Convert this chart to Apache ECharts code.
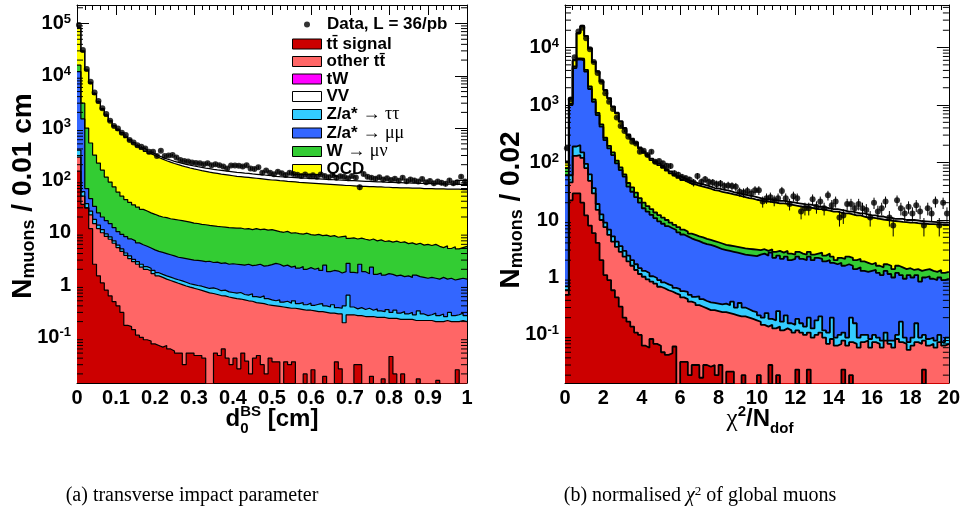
<!DOCTYPE html>
<html><head><meta charset="utf-8">
<script src="https://cdn.jsdelivr.net/npm/echarts@6/dist/echarts.min.js"></script>
<style>html,body{margin:0;padding:0;background:#fff}#c{width:963px;height:514px}</style>
</head><body><div id="c"></div>
<script>
// ---------------- panel (a): d0 (0..1 cm, 100 bins), cumulative stack tops ----------------
const d0Range = [0, 1];
const d0Data = [94000,31000,13500,7700,4800,3300,2400,1860,1380,1100,
 980,815,740,590,530,470,440,410,355,355,
 292,370,292,300,305,275,245,235,230,220,
 215,212,203,212,196,205,196,184,170,192,
 192,190,184,196,170,165,178,140,155,140,
 131,147,137,127,140,133,128,122,130,120,
 125,118,130,121,115,126,112,120,117,110,
 122,114,74,133,118,112,108,115,104,110,
 102,108,99,112,96,104,100,95,106,92,
 98,88,95,90,86,100,88,92,118,95];
const d0Total = [85000,30000,13000,7500,4600,3200,2350,1800,1400,1120,
 950,820,700,610,530,468,420,386,350,323,
 297,276,259,246,232,221,212,203,196,189,
 183,178,172,168,163,159,156,152,149,146,
 143,141,138,136,133,131,129,127,125,123,
 120,118,117,116,114,113,112,111,110,108,
 108,107,106,105,104,103,102,101,100,99,
 99,98,97,96,96,95,94,94,93,92,
 92,91,91,90,90,89,89,88,88,87,
 87,86,86,86,85,85,85,84,84,84];
const d0QCD = [82000,29000,12500,7200,4400,3050,2250,1720,1330,1060,
 900,770,660,572,497,440,396,360,326,299,
 275,255,238,224,211,200,190,181,173,166,
 160,154,149,144,140,136,132,129,126,123,
 120,118,116,114,112,110,108,106,104,102,
 101,99,98,96,95,94,92,91,90,89,
 88,87,86,85,84,83,82,81,80,80,
 79,78,77,77,76,76,75,75,74,74,
 73,73,72,72,72,71,71,71,70,70,
 70,69,69,69,68,68,68,68,67,67];
const d0W = [16000,3000,1000,520,305,215,158,116,93,75,
 60,50,43,38,34,31,28,26,24,22.5,
 21,20,19.5,18.5,18,17.5,17,16.5,16,15.3,
 15,14.5,14.2,13.8,13.5,13.2,13,12.8,12.5,12.4,
 12.2,12.3,11.8,12,11.5,12,11.5,11.7,11.2,11.5,
 11,10.5,10.2,10.6,9.8,10,9.6,9.4,9.8,9.2,
 9,9.3,8.8,9,8.5,8.8,8.2,8.4,8.6,7.8,
 8,7.6,7.9,7.5,7.2,7.6,7,7.3,6.8,7,
 6.6,6.9,6.5,6.7,6.2,6.4,6,6.3,5.8,6,
 5.7,6,5.5,5.2,5.6,5,5.4,4.9,5.2,5.5];
const d0Zmumu = [12000,1500,70,45,32,24,20,17,15,12.5,
 10.5,9.3,8.4,7.6,7.0,6.4,5.9,5.5,5.1,4.7,
 4.4,4.2,4.0,3.8,3.6,3.4,3.3,3.2,3.1,3.0,
 2.95,2.9,2.8,2.85,2.7,2.75,2.6,2.65,2.5,2.55,
 2.5,2.45,2.4,2.5,2.35,2.4,2.5,2.3,2.35,2.45,
 2.6,2.5,2.3,2.4,2.2,2.3,2.1,2.25,2.0,2.15,
 2.0,2.1,1.9,2.4,1.8,1.9,1.85,1.7,1.8,2.6,
 1.75,1.7,2.5,1.8,1.65,2.2,1.6,1.7,1.55,1.65,
 1.6,1.5,1.55,1.45,1.5,1.4,1.55,1.45,1.4,1.35,
 1.4,1.35,1.3,1.4,1.3,1.35,1.25,1.3,1.35,1.3];
const d0Ztautau = [380,61,36,26,18,14,11.5,9.5,8.3,7,
 5.8,4.9,4.1,3.6,3.1,2.8,2.5,2.25,2.1,1.9,
 1.72,1.6,1.5,1.42,1.33,1.26,1.2,1.13,1.06,1.02,
 0.98,0.95,0.9,0.86,0.88,0.84,0.78,0.8,0.74,0.72,
 0.7,0.72,0.66,0.64,0.68,0.6,0.58,0.62,0.55,0.52,
 0.5,0.52,0.47,0.49,0.45,0.5,0.44,0.46,0.42,0.45,
 0.41,0.43,0.44,0.4,0.38,0.42,0.37,0.36,0.4,0.64,
 0.38,0.35,0.37,0.34,0.36,0.33,0.35,0.32,0.31,0.34,
 0.3,0.33,0.29,0.31,0.28,0.3,0.27,0.32,0.28,0.26,
 0.27,0.29,0.26,0.28,0.25,0.3,0.26,0.27,0.29,0.26];
const d0OtherTT = [280,50,30,22,15,12,10,8.5,7.5,6.3,
 5.2,4.4,3.7,3.2,2.8,2.5,2.2,2.0,1.85,1.65,
 1.5,1.4,1.3,1.22,1.15,1.08,1.02,0.96,0.91,0.87,
 0.83,0.79,0.75,0.71,0.69,0.66,0.63,0.62,0.59,0.57,
 0.55,0.54,0.52,0.5,0.49,0.46,0.45,0.44,0.42,0.41,
 0.4,0.39,0.38,0.37,0.36,0.36,0.35,0.34,0.33,0.33,
 0.32,0.31,0.31,0.3,0.29,0.29,0.28,0.28,0.19,0.27,
 0.27,0.26,0.26,0.25,0.25,0.25,0.24,0.24,0.24,0.23,
 0.23,0.23,0.22,0.22,0.22,0.22,0.21,0.21,0.21,0.21,
 0.21,0.2,0.2,0.2,0.21,0.2,0.2,0.2,0.21,0.2];
const d0Signal = [150,35,30,12,2.5,1.5,1.1,0.8,0.62,0.48,
 0.4,0.3,0.17,0.16,0.14,0.11,0.1,0.09,0.085,0.075,
 0.07,0.065,0.07,0.06,0.055,0.05,0.05,0.03,0.05,0.05,
 0.045,0.045,0.04,0,0,0.05,0.045,0.06,0.04,0.03,
 0.04,0.025,0.05,0.035,0.02,0.04,0.045,0.03,0.02,0.04,
 0.034,0.034,0,0.034,0.03,0.034,0,0,0.02,0,
 0.024,0,0,0.018,0,0,0.034,0.025,0,0,
 0,0.03,0.03,0,0,0.018,0,0,0.016,0,
 0.043,0.02,0,0.02,0,0,0,0.016,0,0,
 0,0,0.015,0,0,0,0,0.024,0,0];

// ---------------- panel (b): chi2/Ndof (0..20, 100 bins), cumulative stack tops ----------------
const chiRange = [0, 20];
const chiData = [178,1250,6800,19000,22000,14500,9300,5600,3600,2550,
 1600,1140,850,610,430,355,280,230,215,154,
 160,135,154,103,106,97,88,87,65,61,
 56,53,50,45,58,46,51,46,45,42,
 43,39,40,39,38,31,30,32,29,33,
 33,21,24,25,22,24,32,24,19,26,
 24,14,16,16,23,17,21,16,27,18,
 21,11,12,19,19,16,19,16,15,11,
 20,14,16,21,11,8,22,16,13,17,
 13,18,14,8,16,13,21,8,20,13];
const chiTotal = [105,1320,6100,18000,24000,16000,9800,5700,3850,2600,
 1830,1320,950,735,525,400,310,260,225,183,
 156,137,117,105,96,87,77,70,63,58,
 54,50,47,45,43,41.5,40,38,36,35.5,
 34,33,32,30.5,29.5,28.5,27.5,26.5,26,25,
 24,23,23,22.5,22,21.5,21.5,21,20.5,20,
 19.5,19,18.5,18.5,18,17,17,16.5,16,15.5,
 15.5,15,14.5,14,14,13.5,13,13,12.5,12,
 12,11.5,11.5,11,11,10.5,10.5,10.5,10,10,
 10,9.8,9.6,9.5,9.4,9.3,9.2,9.1,9.0,9.0];
const chiQCD = [100,1300,6000,17700,23500,15700,9600,5600,3800,2550,
 1800,1300,930,720,510,390,300,250,215,175,
 148,130,110,99,90,81,72,65,59,54,
 49.6,46,43,41.7,39.5,38,36.5,35,33,32.3,
 31,30,29,28,27,26,25,24,23.5,22.5,
 22,21,21,20.5,20,19.5,19.5,19,18.5,18,
 17.5,17,17,16.5,16,15.5,15.5,15,14.5,14,
 14,13.5,13,13,12.5,12,12,11.5,11,11,
 10.8,10.5,10.2,10,9.8,9.6,9.5,9.3,9.2,9,
 9,8.8,8.7,8.6,8.5,8.5,8.4,8.3,8.3,8.2];
const chiW = [80,1050,4700,6500,6400,4100,2100,1250,730,460,
 270,195,150,108,82,62,44,37,30,24,
 20,17.5,15.5,13.5,12.2,11,10,9,8.2,7.5,
 6.8,6.3,5.8,5.5,5.2,5,4.7,4.5,4.3,4.1,
 3.9,3.7,3.6,3.5,3.4,3.3,3.2,3.15,3.1,3.05,
 3.0,3.1,2.9,3.1,2.8,2.9,2.7,2.9,2.6,2.5,
 2.8,2.6,2.5,2.8,2.5,2.6,2.7,2.4,2.6,2.3,
 2.0,2.2,2.1,2.3,2.2,2.0,2.1,1.9,1.8,1.7,
 1.8,1.6,1.5,1.7,1.6,1.4,1.6,1.5,1.4,1.45,
 1.35,1.4,1.3,1.35,1.4,1.3,1.25,1.35,1.2,1.25];
const chiZmumu = [60,1000,4400,6200,6000,3800,1900,1140,670,420,
 245,176,135,97,74,57,38,31,25,20,
 16,14,12.3,10.8,9.5,8.6,7.8,7.2,6.7,6.1,
 5.6,5.2,4.8,4.5,4.3,4.0,3.8,3.7,3.5,3.3,
 3.1,3.0,2.9,2.8,2.7,2.6,2.5,2.45,2.4,2.35,
 2.5,2.6,2.4,2.7,2.2,2.4,2.1,2.3,2.0,2.1,
 2.3,2.1,2.0,2.3,2.0,2.2,2.1,1.9,2.0,1.8,
 1.7,1.8,1.6,1.7,1.6,1.4,1.5,1.3,1.25,1.3,
 1.35,1.2,1.1,1.3,1.15,1.0,1.2,1.1,0.95,1.1,
 1.0,1.1,0.85,1.0,1.05,0.95,0.9,1.0,0.9,0.95];
const chiZtautau = [0.7,60,190,200,150,95,62,36,19,12.5,
 9,6.8,5.2,4.2,3.5,2.9,2.4,2.0,1.7,1.45,
 1.3,1.2,1.05,0.98,0.9,0.82,0.76,0.72,0.66,0.63,
 0.58,0.56,0.5,0.46,0.47,0.42,0.39,0.37,0.36,0.35,
 0.34,0.35,0.33,0.38,0.3,0.36,0.3,0.28,0.26,0.25,
 0.22,0.2,0.24,0.19,0.18,0.26,0.17,0.22,0.16,0.15,
 0.19,0.16,0.14,0.2,0.13,0.18,0.21,0.12,0.11,0.2,
 0.09,0.1,0.11,0.09,0.2,0.16,0.09,0.1,0.1,0.085,
 0.1,0.09,0.08,0.11,0.08,0.08,0.1,0.17,0.09,0.075,
 0.09,0.16,0.09,0.1,0.085,0.09,0.08,0.1,0.075,0.09];
const chiOtherTT = [0.6,45,130,135,120,80,48,29,15,10,
 7.5,5.5,4.2,3.4,2.8,2.3,1.9,1.6,1.35,1.15,
 1.03,0.93,0.85,0.78,0.69,0.65,0.6,0.57,0.53,0.5,
 0.45,0.42,0.38,0.36,0.33,0.31,0.29,0.27,0.27,0.26,
 0.25,0.25,0.24,0.23,0.22,0.21,0.21,0.2,0.19,0.18,
 0.17,0.15,0.14,0.15,0.13,0.14,0.12,0.13,0.12,0.11,
 0.12,0.11,0.1,0.11,0.09,0.1,0.11,0.09,0.07,0.085,
 0.065,0.07,0.08,0.065,0.075,0.07,0.06,0.075,0.08,0.06,
 0.075,0.07,0.06,0.08,0.07,0.06,0.085,0.075,0.07,0.055,
 0.065,0.075,0.07,0.08,0.065,0.07,0.06,0.075,0.065,0.07];
const chiSignal = [0.5,22,29,29,20,12,8,5.9,4,2,
 1.1,0.9,0.6,0.45,0.31,0.2,0.17,0.14,0.11,0.1,
 0.065,0.06,0.085,0.07,0.065,0.05,0.045,0.048,0.063,0,
 0.034,0.034,0.02,0.03,0.03,0.018,0.03,0.028,0.03,0.02,
 0.03,0,0.023,0.023,0,0,0.02,0,0,0,
 0.02,0,0,0.03,0,0.02,0,0,0,0,
 0.025,0,0,0.025,0,0,0,0,0,0,
 0,0,0.025,0,0.02,0,0,0,0,0,
 0,0,0,0,0,0,0,0,0,0,
 0,0,0,0.025,0,0,0,0,0,0];

// axis ranges
const d0YRange = [0.0134, 2.26e5];
const chiYRange = [0.0146, 5.5e4];
const legendNames = ['tt\u0304 signal','other tt\u0304','tW','VV','Z/a* \u2192 \u03c4\u03c4','Z/a* \u2192 \u03bc\u03bc','W \u2192 \u03bc\u03bd','QCD'];
const dataName = 'Data, L = 36/pb';

// ---------------- rendering ----------------
const F = "'Liberation Sans Narrow','Arial Narrow','Liberation Sans',Arial,sans-serif";
const SERIF = "'Liberation Serif','DejaVu Serif',serif";
const COL = {sig:'#cc0000', ott:'#ff6666', tw:'#ff00ff', vv:'#ffffff', ztt:'#33ccff', zmm:'#3366ff', w:'#33cc33', qcd:'#ffff00'};

function hist(name, vals, range, color, gi, lw) {
  const n = vals.length, w = (range[1] - range[0]) / n;
  const pts = vals.map((v, i) => [range[0] + i * w, v > 0 ? v : 1e-6]);
  pts.push([range[1], pts[n - 1][1]]);
  return {type:'line', name, xAxisIndex: gi*2, yAxisIndex: gi*2, data: pts, step:'end',
    symbol:'none', showSymbol:false, animation:false, silent:true, clip:true,
    lineStyle:{color:'#000', width:lw}, itemStyle:{color}, areaStyle:{color, opacity:1, origin:'start'},
    emphasis:{disabled:true}, z:2};
}
function centers(vals, range) {
  const w = (range[1] - range[0]) / vals.length;
  return vals.map((v, i) => [range[0] + (i + 0.5) * w, v]);
}
function errBars(vals, range, gi) {
  return {type:'custom', xAxisIndex: gi*2, yAxisIndex: gi*2, data: centers(vals, range), silent:true, animation:false, z:5,
    encode:{x:0, y:1},
    renderItem:(p, api) => {
      const x = api.value(0), v = api.value(1), e = Math.sqrt(v);
      const a = api.coord([x, v + e]), b = api.coord([x, Math.max(v - e, 1e-6)]);
      return {type:'line', shape:{x1:a[0], y1:a[1], x2:b[0], y2:b[1]}, style:{stroke:'#000', lineWidth:1}};
    }};
}
function dots(vals, range, gi, name) {
  return {type:'scatter', name, xAxisIndex: gi*2, yAxisIndex: gi*2, data: centers(vals, range), symbol:'circle',
    symbolSize:6, itemStyle:{color:'#000'}, z:6, silent:true, animation:false};
}
function logMinor(r) {
  const out = [];
  for (let e = Math.floor(Math.log10(r[0])); e <= Math.ceil(Math.log10(r[1])); e++)
    for (let k = 2; k <= 9; k++) { const v = k * Math.pow(10, e); if (v > r[0] && v < r[1]) out.push(v); }
  return out;
}
function minorTicks(gi, xr, yr) {
  return {type:'custom', xAxisIndex: gi*2, yAxisIndex: gi*2, data: logMinor(yr).map(v => [xr[0], v]),
    encode:{x:0, y:1}, silent:true, animation:false, z:8,
    renderItem:(p, api) => {
      const v = api.value(1);
      const L = api.coord([xr[0], v]), R = api.coord([xr[1], v]);
      return {type:'group', children:[
        {type:'line', shape:{x1:L[0], y1:L[1], x2:L[0]+6, y2:L[1]}, style:{stroke:'#000', lineWidth:1}},
        {type:'line', shape:{x1:R[0]-6, y1:R[1], x2:R[0], y2:R[1]}, style:{stroke:'#000', lineWidth:1}}]};
    }};
}
function panelSeries(gi, r, yr, data, tot, qcd, w, zmm, ztt, ott, sig, lw) {
  return [
    hist('MC total', tot, r, '#ffffff', gi, lw),
    hist(legendNames[7], qcd, r, COL.qcd, gi, lw),
    hist(legendNames[6], w, r, COL.w, gi, lw),
    hist(legendNames[5], zmm, r, COL.zmm, gi, lw),
    hist(legendNames[4], ztt, r, COL.ztt, gi, lw),
    {type:'line', name:legendNames[3], xAxisIndex:gi*2, yAxisIndex:gi*2, data:[], itemStyle:{color:COL.vv}},
    {type:'line', name:legendNames[2], xAxisIndex:gi*2, yAxisIndex:gi*2, data:[], itemStyle:{color:COL.tw}},
    hist(legendNames[1], ott, r, COL.ott, gi, lw),
    hist(legendNames[0], sig, r, COL.sig, gi, lw),
    minorTicks(gi, r, yr),
    errBars(data, r, gi),
    dots(data, r, gi, dataName)
  ];
}

const yLabel = {
  color:'#000', fontFamily:F, fontWeight:'bold', fontSize:20, margin:6,
  formatter:(v) => {
    const e = Math.log10(v), r = Math.round(e);
    if (Math.abs(e - r) > 1e-6) return '';
    if (r === 0) return '1';
    if (r === 1) return '10';
    return '{b|10}{s|' + r + '}';
  },
  rich:{b:{fontFamily:F, fontWeight:'bold', fontSize:20, lineHeight:22},
        s:{fontFamily:F, fontWeight:'bold', fontSize:13, lineHeight:12, verticalAlign:'top'}}
};
function xAx(gi, r, interval, pos) {
  return {type:'value', gridIndex:gi, min:r[0], max:r[1], interval, position:pos,
    axisLine:{show:true, onZero:false, lineStyle:{color:'#000', width:1}},
    axisTick:{show:true, inside:true, length:10, lineStyle:{color:'#000'}},
    minorTick:{show:true, splitNumber:5, length:5, lineStyle:{color:'#000'}},
    axisLabel:{show: pos === 'bottom', color:'#000', fontFamily:F, fontWeight:'bold', fontSize:20, margin:5},
    splitLine:{show:false}};
}
function yAx(gi, r, pos) {
  return {type:'log', logBase:10, gridIndex:gi, min:r[0], max:r[1], position:pos, splitNumber:8,
    axisLine:{show:true, onZero:false, lineStyle:{color:'#000', width:1}},
    axisTick:{show:true, inside:true, length:12, lineStyle:{color:'#000'}},
    axisLabel: pos === 'left' ? yLabel : {show:false},
    splitLine:{show:false}};
}

// text helpers
const mctx = document.createElement('canvas').getContext('2d');
function tw(t, size, fam, weight, style) { mctx.font = `${style||'normal'} ${weight||'normal'} ${size}px ${fam}`; return mctx.measureText(t).width; }
function textRun(cx, base, parts) {
  const widths = parts.map(p => p.stack ? Math.max(...p.stack.map(s => tw(s.t, s.size, s.fam, s.weight, s.style))) : tw(p.t, p.size, p.fam, p.weight, p.style));
  let x = cx - widths.reduce((a, b) => a + b, 0) / 2;
  const els = [];
  parts.forEach((p, i) => {
    (p.stack || [p]).forEach(s => {
      els.push({type:'text', x, y: base + (s.dy || 0) - 0.35 * s.size, silent:true,
        style:{text:s.t, fontFamily:s.fam, fontSize:s.size, fontWeight:s.weight||'normal', fontStyle:s.style||'normal', fill:'#000', align:'left', verticalAlign:'middle'}});
    });
    x += widths[i];
  });
  return els;
}

const yTitleRich = {n:{fontFamily:F, fontWeight:'bold', fontSize:28, lineHeight:31, fill:'#000'},
                    s:{fontFamily:F, fontWeight:'bold', fontSize:18, lineHeight:10, verticalAlign:'bottom', fill:'#000'}};
const graphics = [].concat(
  textRun(272, 428, [
    {t:'d', size:24, fam:F, weight:'bold'},
    {stack:[{t:'0', size:15, fam:F, weight:'bold', dy:6}, {t:'BS', size:15, fam:F, weight:'bold', dy:-11}]},
    {t:' [cm]', size:24, fam:F, weight:'bold'}]),
  textRun(760, 428, [
    {t:'\u03c7', size:25, fam:SERIF, weight:'normal'},
    {t:'2', size:15, fam:F, weight:'bold', dy:-11},
    {t:'/N', size:24, fam:F, weight:'bold'},
    {t:'dof', size:15, fam:F, weight:'bold', dy:6}]),
  [
    {type:'text', x:23, y:196, rotation:Math.PI/2, silent:true,
      style:{text:'{n|N}{s|muons}{n| / 0.01 cm}', align:'center', verticalAlign:'middle', rich:yTitleRich}},
    {type:'text', x:511, y:210, rotation:Math.PI/2, silent:true,
      style:{text:'{n|N}{s|muons}{n| / 0.02}', align:'center', verticalAlign:'middle', rich:yTitleRich}},
    {type:'text', x:192, y:496, silent:true,
      style:{text:'(a) transverse impact parameter', fontFamily:SERIF, fontSize:20, fill:'#000', align:'center', verticalAlign:'middle'}},
    {type:'text', x:700, y:496, silent:true,
      style:{text:'(b) normalised {i|\u03c7}{s|2} of global muons', align:'center', verticalAlign:'middle',
        fontFamily:SERIF, fontSize:20, fill:'#000',
        rich:{i:{fontFamily:SERIF, fontSize:20, fontStyle:'italic', lineHeight:22, fill:'#000'},
              s:{fontFamily:SERIF, fontSize:13, lineHeight:12, verticalAlign:'top', fill:'#000'}}}}
  ]);

const legendText = {color:'#000', fontFamily:F, fontWeight:'bold', fontSize:17, lineHeight:10,
  rich:{g:{fontFamily:SERIF, fontWeight:'normal', fontSize:18, lineHeight:10, color:'#000'}}};
const legendCols = [COL.sig, COL.ott, COL.tw, COL.vv, COL.ztt, COL.zmm, COL.w, COL.qcd];

const option = {
  backgroundColor:'#fff',
  animation:false,
  grid:[{left:77, top:5, width:390, height:378, show:false},
        {left:565, top:5, width:390, height:378, show:false}],
  xAxis:[xAx(0, d0Range, 0.1, 'bottom'), xAx(0, d0Range, 0.1, 'top'),
         xAx(1, chiRange, 2, 'bottom'), xAx(1, chiRange, 2, 'top')],
  yAxis:[yAx(0, d0YRange, 'left'), yAx(0, d0YRange, 'right'),
         yAx(1, chiYRange, 'left'), yAx(1, chiYRange, 'right')],
  legend:[
    {data:[{name:dataName, icon:'circle', itemStyle:{color:'#000', borderWidth:0}}], left:304, top:16, orient:'vertical',
      padding:0, itemWidth:6, itemHeight:6, selectedMode:false,
      textStyle:Object.assign({}, legendText, {padding:[0,0,0,12]})},
    {data:legendNames.map((n, i) => ({name:n, icon:'rect', itemStyle:{color:legendCols[i], borderColor:'#000', borderWidth:1}})),
      left:292, top:35.5, padding:0, orient:'vertical', itemWidth:29, itemHeight:10, itemGap:0.5, selectedMode:false,
      formatter:(n) => n.replace(/(\u2192.*)$/, '{g|$1}'),
      textStyle:legendText}
  ],
  series:[].concat(
    panelSeries(0, d0Range, d0YRange, d0Data, d0Total, d0QCD, d0W, d0Zmumu, d0Ztautau, d0OtherTT, d0Signal, 1.2),
    panelSeries(1, chiRange, chiYRange, chiData, chiTotal, chiQCD, chiW, chiZmumu, chiZtautau, chiOtherTT, chiSignal, 1.8)),
  graphic:graphics
};
const chart = echarts.init(document.getElementById('c'), null, {renderer:'canvas'});
chart.setOption(option);
</script></body></html>
